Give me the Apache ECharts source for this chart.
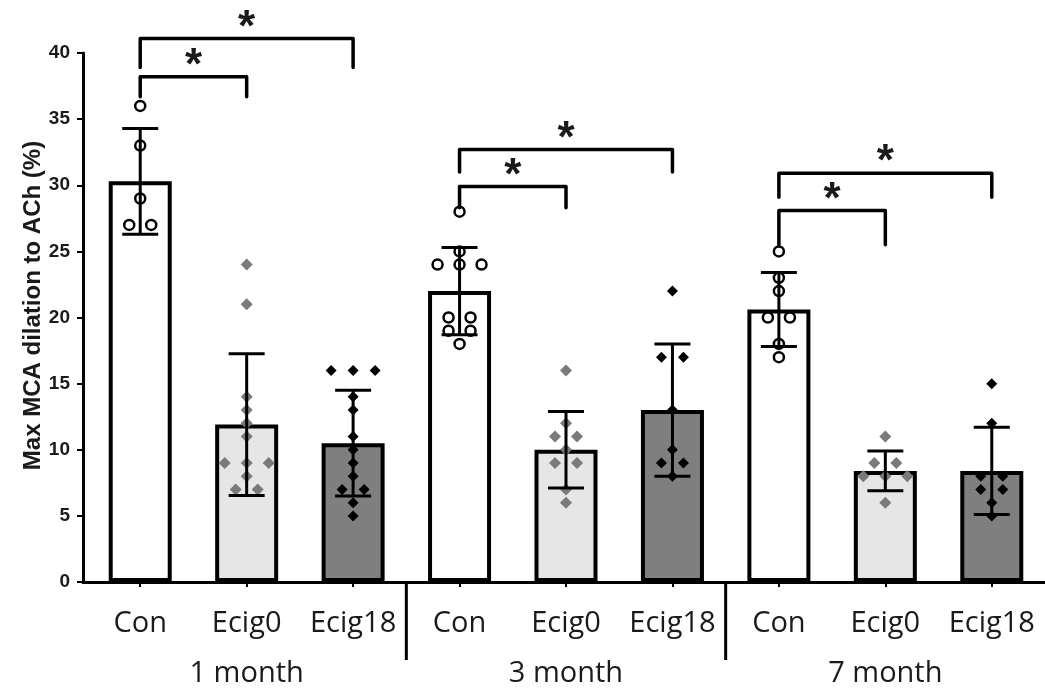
<!DOCTYPE html>
<html>
<head>
<meta charset="utf-8">
<script src="https://cdn.jsdelivr.net/npm/echarts@6/dist/echarts.min.js"></script>
<style>
  html, body { margin: 0; padding: 0; background: #ffffff; }
  #chart { width: 1045px; height: 698px; }
</style>
</head>
<body>
<div id="chart"></div>
<script>
// Groups along the x axis and the three treatments within each group
const groups = ['1 month', '3 month', '7 month'];
const treatments = ['Con', 'Ecig0', 'Ecig18'];
const categories = ['Con', 'Ecig0', 'Ecig18', 'Con', 'Ecig0', 'Ecig18', 'Con', 'Ecig0', 'Ecig18'];

// Y axis range / ticks (%)
const yMin = 0;
const yMax = 40;
const yStep = 5;

// Group means and standard deviations (%), one per category
const means = [30.3, 11.9, 10.5, 22.0, 10.0, 13.0, 20.6, 8.4, 8.4];
const sds   = [4.0, 5.35, 4.0, 3.3, 2.9, 5.0, 2.8, 1.5, 3.3];

// Individual animals (%), one array per category
const con1m     = [36, 33, 29, 27, 27];
const ecig0_1m  = [24, 21, 14, 13, 12, 11, 9, 9, 9, 8, 7, 7];
const ecig18_1m = [16, 16, 16, 14, 13, 11, 10, 9, 8, 7, 7, 6, 5];
const con3m     = [28, 25, 24, 24, 24, 20, 20, 19, 19, 18];
const ecig0_3m  = [16, 12, 11, 11, 10, 9, 9, 7, 6];
const ecig18_3m = [22, 17, 17, 13, 10, 9, 9, 8];
const con7m     = [25, 23, 22, 20, 20, 18, 17];
const ecig0_7m  = [11, 9, 9, 8, 8, 8, 6];
const ecig18_7m = [15, 12, 8, 8, 7, 7, 6, 5];

// Significance brackets: [from category, to category, bracket level, leg end] (%)
const brackets = [
  [0, 2, 41.1, 38.9],
  [0, 1, 38.2, 36.7],
  [3, 5, 32.7, 31.0],
  [3, 4, 29.9, 28.3],
  [6, 8, 30.9, 29.1],
  [6, 7, 28.1, 25.5]
];

// Group dividers below the axis: between these neighbouring categories
const dividers = [[2, 3], [5, 6]];

const pointsByCategory = [con1m, ecig0_1m, ecig18_1m, con3m, ecig0_3m, ecig18_3m, con7m, ecig0_7m, ecig18_7m];
const barFill = ['#ffffff', '#e6e6e6', '#7f7f7f'];
const SPREAD = 22; // horizontal spacing between tied points (px)

// Spread tied values side by side, keep single values centred
function dotItems(catIndex) {
  const vals = pointsByCategory[catIndex];
  const counts = {};
  vals.forEach(v => { counts[v] = (counts[v] || 0) + 1; });
  const seen = {};
  return vals.map(v => {
    const n = counts[v];
    const k = seen[v] = (seen[v] === undefined ? 0 : seen[v] + 1);
    return { value: [catIndex, v], symbolOffset: [(k - (n - 1) / 2) * SPREAD, 0] };
  });
}

function dotsFor(treatmentIndex) {
  let out = [];
  for (let g = 0; g < groups.length; g++) {
    out = out.concat(dotItems(g * treatments.length + treatmentIndex));
  }
  return out;
}

const barData = means.map((m, i) => ({
  value: m,
  itemStyle: { color: barFill[i % treatments.length] }
}));

const errData = means.map((m, i) => [i, m, sds[i]]);

const chart = echarts.init(document.getElementById('chart'), null, { renderer: 'canvas' });

const labelFont = 'Open Sans';
const tickFont = 'Liberation Sans, Arial, sans-serif';

chart.setOption({
  animation: false,
  backgroundColor: '#ffffff',
  grid: [
    { left: 87, right: 0, top: 53, bottom: 116 },
    { left: 83, right: 0, top: 53, bottom: 116 }
  ],
  xAxis: [
    {
      type: 'category',
      gridIndex: 0,
      position: 'bottom',
      data: categories,
      boundaryGap: true,
      axisLine: { show: false },
      axisTick: { show: true, alignWithLabel: true, length: 5, lineStyle: { color: '#000', width: 2 } },
      axisLabel: { interval: 0, margin: 27, fontFamily: labelFont, fontSize: 29, color: '#1a1a1a' },
      splitLine: { show: false }
    },
    {
      type: 'category',
      gridIndex: 0,
      position: 'bottom',
      data: groups,
      boundaryGap: true,
      axisLine: { show: false },
      axisTick: { show: false },
      axisLabel: { interval: 0, margin: 77, fontFamily: labelFont, fontSize: 29, color: '#1a1a1a' },
      splitLine: { show: false }
    },
    {
      type: 'value',
      gridIndex: 1,
      min: 0,
      max: 1,
      axisLine: { show: true, lineStyle: { color: '#000', width: 3 } },
      axisTick: { show: false },
      axisLabel: { show: false },
      splitLine: { show: false }
    }
  ],
  yAxis: [
    {
      type: 'value',
      gridIndex: 0,
      min: yMin,
      max: yMax,
      show: false,
      splitLine: { show: false }
    },
    {
      type: 'value',
      gridIndex: 1,
      min: yMin,
      max: yMax,
      interval: yStep,
      name: 'Max MCA dilation to ACh (%)',
      nameLocation: 'middle',
      nameGap: 38,
      nameMoveOverlap: false,
      nameTextStyle: {
        fontFamily: tickFont, fontWeight: 'bold', fontSize: 24, color: '#1a1a1a',
        padding: [0, 0, 0, 24]
      },
      axisLine: { show: true, lineStyle: { color: '#000', width: 3 } },
      axisTick: { show: true, inside: false, length: 6, lineStyle: { color: '#000', width: 2 } },
      axisLabel: { margin: 13, fontFamily: tickFont, fontWeight: 'bold', fontSize: 19, color: '#1a1a1a' },
      splitLine: { show: false }
    }
  ],
  series: [
    {
      type: 'bar',
      xAxisIndex: 0,
      yAxisIndex: 0,
      data: barData,
      barWidth: 63,
      itemStyle: { borderColor: '#000', borderWidth: 4 },
      z: 2
    },
    {
      name: 'Con',
      type: 'scatter',
      xAxisIndex: 0,
      yAxisIndex: 0,
      data: dotsFor(0),
      symbol: 'circle',
      symbolSize: 10,
      itemStyle: { color: '#ffffff', borderColor: '#000', borderWidth: 2.5, opacity: 1 },
      z: 3
    },
    {
      name: 'Ecig0',
      type: 'scatter',
      xAxisIndex: 0,
      yAxisIndex: 0,
      data: dotsFor(1),
      symbol: 'diamond',
      symbolSize: 12,
      itemStyle: { color: '#7a7a7a', opacity: 1 },
      z: 3
    },
    {
      name: 'Ecig18',
      type: 'scatter',
      xAxisIndex: 0,
      yAxisIndex: 0,
      data: dotsFor(2),
      symbol: 'diamond',
      symbolSize: 11,
      itemStyle: { color: '#000000', opacity: 1 },
      z: 3
    },
    {
      // mean ± SD whiskers with caps
      type: 'custom',
      xAxisIndex: 0,
      yAxisIndex: 0,
      data: errData,
      encode: { x: 0, y: 1 },
      z: 4,
      renderItem: function (params, api) {
        const x = api.value(0);
        const m = api.value(1);
        const s = api.value(2);
        const top = api.coord([x, m + s]);
        const bot = api.coord([x, m - s]);
        const half = 18;
        const style = { stroke: '#000', lineWidth: 3 };
        return {
          type: 'group',
          children: [
            { type: 'line', shape: { x1: top[0], y1: top[1], x2: bot[0], y2: bot[1] }, style },
            { type: 'line', shape: { x1: top[0] - half, y1: top[1], x2: top[0] + half, y2: top[1] }, style },
            { type: 'line', shape: { x1: bot[0] - half, y1: bot[1], x2: bot[0] + half, y2: bot[1] }, style }
          ]
        };
      }
    },
    {
      // vertical dividers between the time-point groups, hanging below the axis
      type: 'custom',
      xAxisIndex: 0,
      yAxisIndex: 0,
      data: dividers,
      encode: { x: 0 },
      clip: false,
      z: 5,
      renderItem: function (params, api) {
        const a = api.coord([api.value(0), yMin]);
        const b = api.coord([api.value(1), yMin]);
        const x = (a[0] + b[0]) / 2;
        return {
          type: 'line',
          shape: { x1: x, y1: a[1], x2: x, y2: a[1] + 78 },
          style: { stroke: '#000', lineWidth: 3 }
        };
      }
    },
    {
      // significance brackets with asterisks
      type: 'custom',
      xAxisIndex: 0,
      yAxisIndex: 0,
      data: brackets,
      encode: { x: 0, y: 2 },
      clip: false,
      z: 5,
      renderItem: function (params, api) {
        const a = api.coord([api.value(0), api.value(2)]);
        const b = api.coord([api.value(1), api.value(2)]);
        const leg = api.coord([api.value(0), api.value(3)])[1];
        return {
          type: 'group',
          children: [
            {
              type: 'polyline',
              shape: { points: [[a[0], leg], [a[0], a[1]], [b[0], b[1]], [b[0], leg]] },
              style: { stroke: '#000', lineWidth: 3.5, fill: null, lineJoin: 'round', lineCap: 'round' }
            },
            {
              type: 'text',
              x: (a[0] + b[0]) / 2,
              y: a[1] - 10,
              style: {
                text: '*',
                fontFamily: tickFont,
                fontWeight: 'bold',
                fontSize: 44,
                fill: '#1a1a1a',
                align: 'center',
                verticalAlign: 'middle'
              }
            }
          ]
        };
      }
    }
  ]
});
</script>
</body>
</html>
